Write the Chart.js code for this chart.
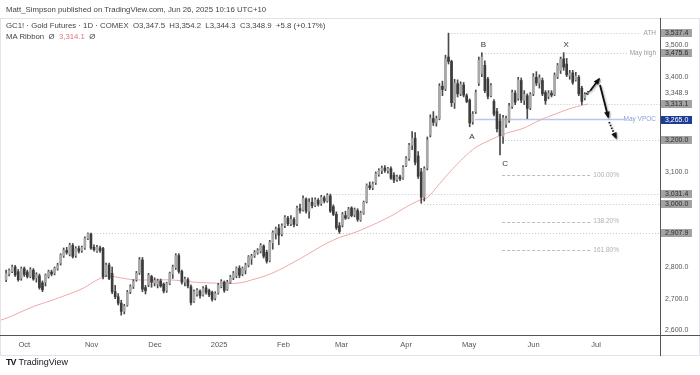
<!DOCTYPE html>
<html>
<head>
<meta charset="utf-8">
<script src="https://cdn.jsdelivr.net/npm/chart.js@4.4.1/dist/chart.umd.min.js"></script>
<style>
  html, body { margin: 0; padding: 0; background: #fff; }
  body { width: 700px; height: 375px; position: relative; overflow: hidden; font-family: "Liberation Sans", Arial, sans-serif; }
  #c { position: absolute; left: 0; top: 0; }
  .txt { position: absolute; white-space: pre; color: #444; font-size: 7.8px; line-height: 9px; }
  .ma { color: #e07878; }
  #logo { position: absolute; left: 6px; top: 357px; font-size: 9px; line-height: 11px; color: #131722; white-space: pre; }
  #logo b { font-weight: 900; letter-spacing: -1px; margin-right: 3px; }
</style>
</head>
<body>
<canvas id="c" width="700" height="375"></canvas>
<div class="txt" style="left:6px;top:5px;">Matt_Simpson published on TradingView.com, Jun 26, 2025 10:16 UTC+10</div>
<div class="txt" style="left:6px;top:21px;">GC1! · Gold Futures · 1D · COMEX  O3,347.5  H3,354.2  L3,344.3  C3,348.9  +5.8 (+0.17%)</div>
<div class="txt" style="left:6px;top:32px;">MA Ribbon  Ø  <span class="ma">3,314.1</span>  Ø</div>
<div id="logo"><b>TV</b>TradingView</div>
<script>
// Gold futures daily bars, Sep 2024 - Jun 2025
const opens = [
  2760,2778,2786,2800,2785,2764,2795,2784,2770,2790,
  2765,2772,2750,2752,2770,2784,2780,2795,2812,2835,
  2852,2840,2868,2836,2858,2852,2860,2890,2904,2862,
  2850,2860,2858,2775,2806,2780,2722,2706,2686,2660,
  2680,2722,2738,2760,2782,2822,2735,
  2744,2770,2750,2746,2756,2746,2726,2748,2778,2798,
  2836,2786,2752,2760,2738,2692,2714,2724,2712,2734,
  2726,2720,2702,2718,2738,2752,2730,2752,2766,2772,
  2796,2778,2790,2806,2826,2836,2846,2850,2866,2846,
  2820,2876,2906,2922,2904,2930,2954,
  2936,2950,2936,2984,2980,3014,2976,3004,2994,3010,
  3000,3018,3008,3024,2990,2966,2930,2932,2962,2956,
  2986,2964,2978,2948,2970,3006,3056,3050,3066,3092,
  3104,3112,3104,3110,3090,3076,3084,3080,3120,3142,
  3184,3206,3150,3100,3020,3112,3216,3268,3256,3268,
  3370,3362,3462,
  3448,3318,3378,3346,3374,3340,3326,3258,3290,3380,
  3410,3436,3392,3340,3322,3290,3260,3212,3250,3262,
  3306,3348,3332,3388,3326,3340,3302,3346,3398,3380,
  3388,3350,3338,3348,3344,3400,3420,3456,3440,3404,
  3412,3390,3398,3364,3333,3347.5
];
const highs = [
  2790,2794,2806,2805,2792,2800,2800,2790,2798,2795,
  2782,2778,2756,2778,2790,2790,2800,2812,2842,2860,
  2862,2875,2874,2864,2866,2866,2895,2908,2907,2870,
  2868,2866,2862,2812,2812,2800,2742,2716,2695,2682,
  2726,2744,2760,2786,2830,2830,2742,
  2780,2774,2766,2762,2762,2750,2752,2784,2806,2842,
  2842,2790,2768,2766,2744,2728,2732,2728,2738,2742,
  2730,2724,2722,2748,2760,2756,2758,2774,2786,2800,
  2804,2800,2812,2836,2840,2852,2858,2874,2870,2853,
  2884,2914,2926,2934,2936,2962,2960,
  2962,2956,2992,2998,3024,3018,3016,3018,3018,3016,
  3026,3024,3031.4,3030,2996,2974,2940,2972,2976,2988,
  2990,2986,2984,2976,3008,3062,3068,3068,3100,3110,
  3118,3120,3114,3116,3098,3090,3090,3120,3148,3190,
  3227,3224,3164,3111,3116,3210,3280,3290,3276,3378,
  3386,3468,3537.4,
  3452,3392,3390,3384,3382,3346,3330,3290,3358,3462,
  3475.6,3450,3398,3378,3328,3300,3282,3278,3276,3316,
  3358,3356,3398,3396,3356,3346,3350,3410,3416,3406,
  3396,3356,3356,3356,3412,3442,3462,3476,3458,3420,
  3420,3414,3404,3370,3350,3354.2
];
const lows = [
  2754,2772,2782,2770,2755,2758,2770,2765,2766,2758,
  2752,2730,2722,2740,2765,2772,2775,2790,2806,2830,
  2840,2835,2828,2830,2844,2846,2855,2886,2855,2850,
  2846,2846,2762,2770,2760,2716,2700,2680,2648,2652,
  2676,2716,2732,2755,2776,2722,2715,
  2738,2736,2740,2734,2736,2718,2720,2744,2764,2792,
  2780,2746,2740,2734,2680,2688,2708,2702,2708,2714,
  2706,2692,2696,2714,2734,2720,2726,2748,2760,2766,
  2766,2772,2778,2800,2808,2830,2840,2844,2828,2812,
  2816,2856,2888,2870,2898,2924,2930,
  2930,2926,2930,2970,2976,2970,2954,2986,2990,2992,
  2994,3002,3004,2972,2962,2918,2906,2926,2950,2952,
  2958,2958,2944,2944,2966,3002,3044,3044,3060,3086,
  3094,3098,3096,3076,3066,3070,3072,3076,3116,3136,
  3170,3122,3079,3001,3008,3106,3210,3246,3244,3264,
  3340,3356,3440,
  3306,3300,3336,3340,3336,3318,3242,3250,3284,3372,
  3400,3350,3330,3336,3276,3226,3153,3190,3240,3256,
  3300,3312,3326,3318,3312,3268,3296,3340,3372,3364,
  3340,3313,3330,3336,3340,3394,3410,3420,3400,3392,
  3376,3386,3340,3312,3327,3344.3
];
const closes = [
  2779,2789,2800,2775,2760,2795,2776,2770,2792,2762,
  2776,2735,2728,2774,2785,2778,2796,2806,2838,2853,
  2846,2869,2833,2858,2850,2862,2890,2905,2860,2855,
  2862,2852,2770,2806,2764,2722,2706,2686,2660,2676,
  2720,2738,2754,2780,2822,2730,2725,
  2774,2752,2758,2756,2740,2724,2748,2780,2800,2836,
  2786,2752,2762,2740,2688,2722,2726,2710,2732,2720,
  2712,2698,2716,2742,2754,2726,2752,2768,2780,2796,
  2774,2796,2806,2832,2834,2846,2852,2868,2834,2818,
  2878,2908,2920,2900,2930,2956,2936,
  2950,2934,2986,2978,3016,2976,3004,2994,3012,2998,
  3020,3008,3026,2976,2966,2924,2912,2966,2954,2982,
  2962,2980,2950,2970,3004,3058,3050,3062,3094,3104,
  3112,3104,3110,3080,3074,3084,3078,3114,3142,3184,
  3206,3130,3086,3020,3110,3200,3270,3256,3268,3370,
  3360,3456,3448,
  3318,3380,3346,3376,3342,3322,3254,3282,3350,3452,
  3462,3356,3338,3372,3282,3236,3214,3270,3268,3308,
  3350,3320,3390,3326,3344,3300,3344,3400,3380,3396,
  3346,3324,3348,3342,3404,3436,3455,3430,3406,3410,
  3382,3402,3346,3322,3344,3348.9
];

// MA ribbon, read at a few bars
const maIdx  = [-2, 0, 9, 14.5, 20, 25.4, 31, 34.3, 37.6, 42, 47.5, 54.7, 62.3, 70, 76.5, 81, 87.7, 95.3,
                108, 115.7, 126.7, 132.2, 136.6, 138.8, 143.2, 146.5, 154, 159.7, 165.2, 170.6, 176.2, 182, 187, 192];
const maVals = [2632, 2638, 2675, 2693, 2712, 2733, 2764, 2771, 2766, 2760, 2759, 2759, 2752, 2749, 2749, 2759, 2780, 2817,
                2885, 2911, 2959, 2990, 3011, 3017, 3064, 3100, 3170, 3200, 3222, 3237, 3263, 3285, 3302, 3314.1];

// axis ticks
const monthTickIdx = [6, 28.2, 49.1, 70.3, 91.5, 110.7, 132, 152.8, 174.1, 194.7];
const monthLabels = ['Oct', 'Nov', 'Dec', '2025', 'Feb', 'Mar', 'Apr', 'May', 'Jun', 'Jul'];
const priceTicks = [2600, 2700, 2800, 3100, 3400, 3500];

// horizontal levels
const levelValues = [3537.4, 3475.6, 3313.1, 3200.0, 3031.4, 3000.0, 2907.9];
const levelFrom   = [146, 157, 178, 163.7, 106, 137, 27];
const levelTo     = [209.2, 205.3, null, null, null, null, null];
const levelTags   = ['ATH', 'May high', '', '', '', '', ''];
const vpocValue = 3265.0;
const lastPrice = 3348.9;
const fibValues = [3090, 2943, 2852];
const fibLabels = ['100.00%', '138.20%', '161.80%'];

// wave labels
const waveText = ['A', 'B', 'C', 'X'];
const waveIdx  = [153.7, 157.5, 164.7, 184.8];
const waveVal  = [3211, 3500, 3124, 3502];

const FONT = '"Liberation Sans", Arial, sans-serif';
const fmt = v => v.toLocaleString('en-US', { minimumFractionDigits: 1, maximumFractionDigits: 1 });

const upBody = '#a8a8a8', downBody = '#3c3c3c', wickCol = '#4a4a4a';

const bodies = opens.map((o, i) => ({ x: i, y: [Math.min(o, closes[i]), Math.max(o, closes[i])] }));
const wicks = highs.map((h, i) => ({ x: i, y: [lows[i], h] }));
const bodyColors = opens.map((o, i) => closes[i] >= o ? upBody : downBody);
const maData = maIdx.map((x, i) => ({ x: x, y: maVals[i] }));

const annotations = {
  id: 'annotations',
  beforeDatasetsDraw(chart) {
    const { ctx, chartArea: a, scales: { x, y } } = chart;
    ctx.save();
    ctx.beginPath();
    ctx.rect(a.left, a.top, a.right - a.left, a.bottom - a.top);
    ctx.clip();
    // dotted levels
    ctx.strokeStyle = '#c4c4c4';
    ctx.lineWidth = 1;
    ctx.setLineDash([1, 2]);
    levelValues.forEach((v, i) => {
      const yy = Math.round(y.getPixelForValue(v)) + 0.5;
      const x1 = x.getPixelForValue(levelFrom[i]);
      const x2 = levelTo[i] === null ? a.right : x.getPixelForValue(levelTo[i]);
      ctx.beginPath(); ctx.moveTo(x1, yy); ctx.lineTo(x2, yy); ctx.stroke();
    });
    // fib extension lines
    ctx.strokeStyle = '#bdbdbd';
    ctx.setLineDash([3, 2]);
    fibValues.forEach(v => {
      const yy = Math.round(y.getPixelForValue(v)) + 0.5;
      ctx.beginPath(); ctx.moveTo(x.getPixelForValue(163.7), yy); ctx.lineTo(x.getPixelForValue(192.7), yy); ctx.stroke();
    });
    // May VPOC
    ctx.setLineDash([]);
    ctx.strokeStyle = '#b9c8e8';
    ctx.lineWidth = 1.5;
    const vy = y.getPixelForValue(vpocValue);
    ctx.beginPath(); ctx.moveTo(x.getPixelForValue(154.8), vy); ctx.lineTo(x.getPixelForValue(204), vy); ctx.stroke();
    ctx.restore();
  },
  afterDraw(chart) {
    const { ctx, chartArea: a, scales: { x, y } } = chart;
    ctx.save();
    ctx.textBaseline = 'middle';

    // level tags, right aligned before the price scale
    ctx.font = '6.5px ' + FONT;
    ctx.textAlign = 'right';
    ctx.fillStyle = '#9a9a9a';
    levelValues.forEach((v, i) => {
      if (levelTags[i]) ctx.fillText(levelTags[i], a.right - 4, y.getPixelForValue(v));
    });
    ctx.fillStyle = '#86a0d6';
    ctx.fillText('May VPOC', a.right - 4, y.getPixelForValue(vpocValue));
    ctx.textAlign = 'left';
    ctx.fillStyle = '#b0b0b0';
    fibValues.forEach((v, i) => ctx.fillText(fibLabels[i], x.getPixelForValue(193.8), y.getPixelForValue(v)));

    // wave labels
    ctx.font = '8px ' + FONT;
    ctx.textAlign = 'center';
    ctx.fillStyle = '#333';
    waveText.forEach((t, i) => ctx.fillText(t, x.getPixelForValue(waveIdx[i]), y.getPixelForValue(waveVal[i])));

    // arrows
    const P = (i, v) => [x.getPixelForValue(i), y.getPixelForValue(v)];
    const seg = (p1, p2, dash, head) => {
      ctx.setLineDash(dash ? [1.5, 1.5] : []);
      ctx.beginPath(); ctx.moveTo(p1[0], p1[1]); ctx.lineTo(p2[0], p2[1]); ctx.stroke();
      if (head) {
        ctx.setLineDash([]);
        const ang = Math.atan2(p2[1] - p1[1], p2[0] - p1[0]);
        const L = 6, W = 0.5;
        ctx.beginPath();
        ctx.moveTo(p2[0] + Math.cos(ang) * 1.5, p2[1] + Math.sin(ang) * 1.5);
        ctx.lineTo(p2[0] - L * Math.cos(ang - W), p2[1] - L * Math.sin(ang - W));
        ctx.lineTo(p2[0] - L * Math.cos(ang + W), p2[1] - L * Math.sin(ang + W));
        ctx.closePath(); ctx.fill();
      }
    };
    ctx.strokeStyle = '#111'; ctx.fillStyle = '#111';
    ctx.shadowColor = 'rgba(0,0,0,0.35)'; ctx.shadowBlur = 2; ctx.shadowOffsetX = 1; ctx.shadowOffsetY = 1;
    ctx.lineWidth = 1.3;
    seg(P(191.4, 3345), P(192.7, 3355), true, false);
    ctx.lineWidth = 1.8;
    seg(P(192.7, 3355), P(195.7, 3393), false, true);
    seg(P(196.0, 3374), P(198.7, 3273), false, true);
    ctx.lineWidth = 1.8;
    seg(P(199.0, 3257), P(201.3, 3207), true, true);
    ctx.shadowColor = 'transparent';
    ctx.setLineDash([]);

    // frame and axis separators
    ctx.strokeStyle = '#e0e3eb'; ctx.lineWidth = 1;
    ctx.strokeRect(0.5, 18.5, 699, 337);
    ctx.strokeStyle = '#555';
    ctx.beginPath(); ctx.moveTo(a.right + 0.5, 18); ctx.lineTo(a.right + 0.5, 356); ctx.stroke();
    ctx.beginPath(); ctx.moveTo(0, a.bottom + 0.5); ctx.lineTo(700, a.bottom + 0.5); ctx.stroke();

    // price scale labels
    ctx.font = '7px ' + FONT;
    ctx.textAlign = 'left';
    ctx.fillStyle = '#555';
    ctx.fillText(fmt(lastPrice), a.right + 5, y.getPixelForValue(lastPrice));
    const box = (v, bg, fg) => {
      const yy = Math.round(y.getPixelForValue(v));
      ctx.fillStyle = bg;
      ctx.fillRect(a.right + 1, yy - 4, 31, 8);
      ctx.fillStyle = fg;
      ctx.fillText(fmt(v), a.right + 5, yy + 0.5);
    };
    levelValues.forEach(v => box(v, '#a3a3a3', '#2b2b2b'));
    box(vpocValue, '#1c3d96', '#ffffff');
    ctx.restore();
  }
};

new Chart(document.getElementById('c'), {
  type: 'bar',
  data: {
    datasets: [
      { type: 'bar', data: bodies, backgroundColor: bodyColors, barThickness: 2, minBarLength: 1, grouped: false, borderWidth: 0 },
      { type: 'bar', data: wicks, backgroundColor: wickCol, barThickness: 1, grouped: false, borderWidth: 0 },
      { type: 'line', data: maData, borderColor: '#f0a8a8', borderWidth: 1, pointRadius: 0, tension: 0.4, fill: false }
    ]
  },
  options: {
    responsive: false,
    animation: false,
    events: [],
    layout: { padding: { left: 0, right: 0, top: 18, bottom: 20 } },
    plugins: { legend: { display: false }, tooltip: { enabled: false } },
    scales: {
      x: {
        type: 'linear',
        min: -2.013,
        max: 215.8,
        offset: false,
        grid: { display: false, drawTicks: false },
        border: { display: false },
        afterBuildTicks: s => { s.ticks = monthTickIdx.map(v => ({ value: v })); },
        afterFit: s => { s.height = 20; },
        ticks: {
          autoSkip: false, maxRotation: 0, padding: 5,
          font: { size: 7.5, family: FONT }, color: '#555',
          callback: (v, i) => monthLabels[i]
        }
      },
      y: {
        position: 'right',
        min: 2585.5,
        max: 3585.1,
        grid: { display: false, drawTicks: false },
        border: { display: false },
        afterBuildTicks: s => { s.ticks = priceTicks.map(v => ({ value: v })); },
        afterFit: s => { s.width = 40; },
        ticks: {
          padding: 5,
          font: { size: 7, family: FONT }, color: '#555',
          callback: v => fmt(v)
        }
      }
    }
  },
  plugins: [annotations]
});
</script>
</body>
</html>
